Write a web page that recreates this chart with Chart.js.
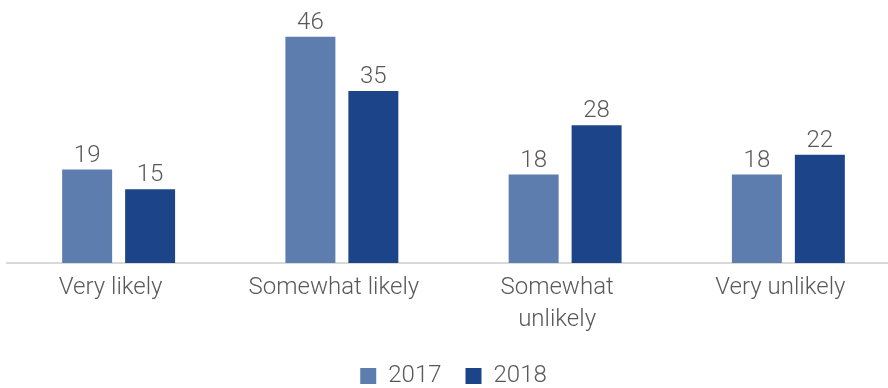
<!DOCTYPE html>
<html>
<head>
<meta charset="utf-8">
<script src="https://cdn.jsdelivr.net/npm/chart.js@4.4.1/dist/chart.umd.min.js"></script>
<style>
  html, body { margin: 0; padding: 0; background: #fff; overflow: hidden; }
  #wrap { width: 907px; height: 388px; }
</style>
</head>
<body>
<div id="wrap"><canvas id="likely"></canvas></div>
<script>
"use strict";

const categories = [ "Very likely", "Somewhat likely", [ "Somewhat", "unlikely" ], "Very unlikely" ];
const years = [ "2017", "2018" ];
const values2017 = [ 19, 46, 18, 18 ];
const values2018 = [ 15, 35, 28, 22 ];
const seriesColors = [ "#5d7daf", "#1c4589" ];

const textColor = "#595959";
const fontFamily = "Roboto, 'Liberation Sans', sans-serif";

// value above each bar
const barValues = {
    id: "barValues",
    afterDatasetsDraw(chart) {
        const ctx = chart.ctx;
        ctx.save();
        ctx.fillStyle = textColor;
        ctx.font = "300 24px " + fontFamily;
        ctx.textAlign = "center";
        ctx.textBaseline = "bottom";
        chart.data.datasets.forEach(function(ds, i) {
            chart.getDatasetMeta(i).data.forEach(function(bar, j) {
                ctx.fillText(String(ds.data[j]), bar.x, bar.y - 2);
            });
        });
        ctx.restore();
    }
};

new Chart(document.getElementById("likely"), {
    type: "bar",
    data: {
        labels: categories,
        datasets: [ {
            label: years[0],
            data: values2017,
            backgroundColor: seriesColors[0]
        }, {
            label: years[1],
            data: values2018,
            backgroundColor: seriesColors[1]
        } ]
    },
    options: {
        responsive: true,
        maintainAspectRatio: false,
        animation: false,
        datasets: {
            bar: {
                categoryPercentage: .564,
                barPercentage: .794
            }
        },
        layout: {
            padding: { left: 7, right: 7, top: 0, bottom: 0 }
        },
        plugins: {
            legend: {
                position: "bottom",
                maxHeight: 48,
                labels: {
                    color: textColor,
                    font: { family: fontFamily, size: 24, weight: 300 },
                    boxWidth: 16,
                    boxHeight: 16,
                    padding: 24
                }
            },
            tooltip: { enabled: false }
        },
        scales: {
            x: {
                grid: { display: false, drawTicks: false },
                border: { color: "#d9d9d9", width: 2 },
                ticks: {
                    color: textColor,
                    font: { family: fontFamily, size: 24, weight: 300, lineHeight: 1.333 },
                    maxRotation: 0,
                    padding: 9,
                    labelOffset: -8
                },
                // keep the label band tight so the baseline sits lower
                afterFit: function(scale) {
                    scale.height = 77;
                }
            },
            y: {
                display: false,
                min: 0,
                max: 53.5
            }
        }
    },
    plugins: [ barValues ]
});
</script>
</body>
</html>
